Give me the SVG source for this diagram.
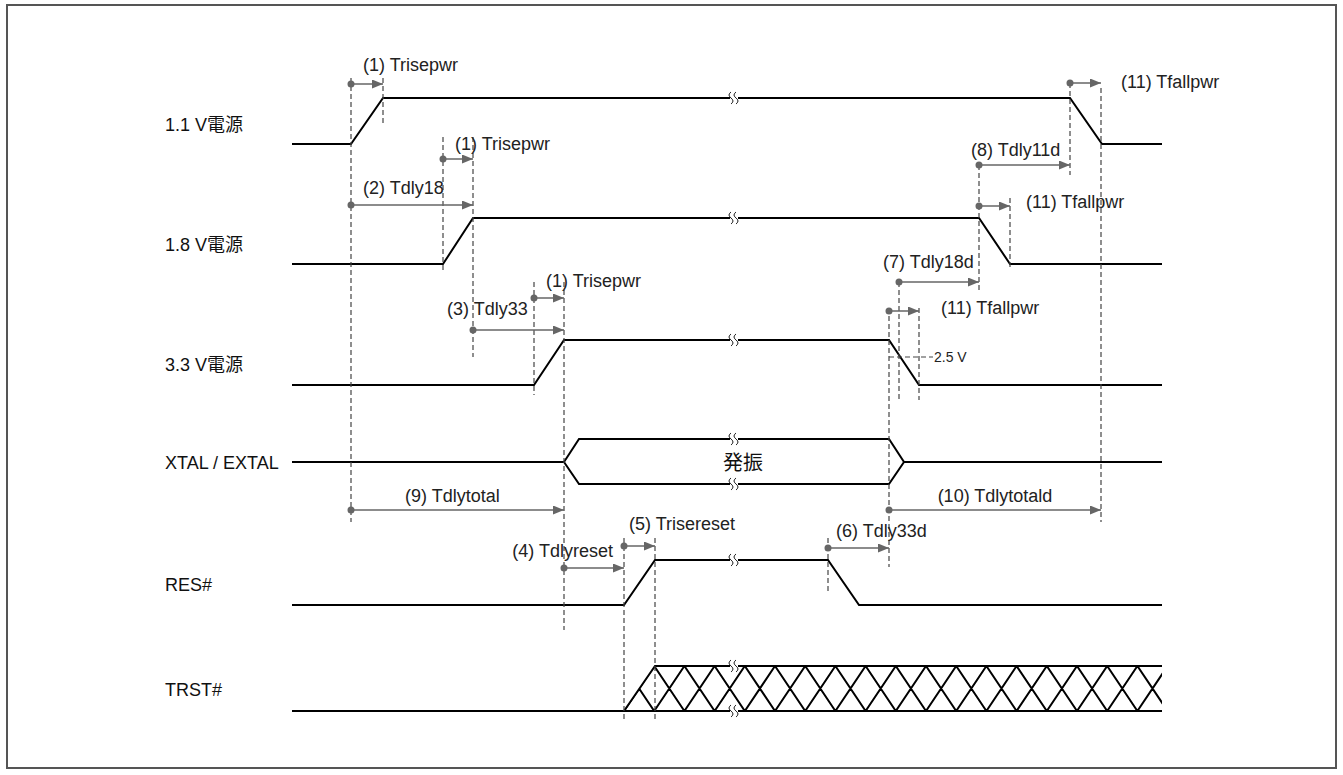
<svg xmlns="http://www.w3.org/2000/svg" width="1343" height="775" viewBox="0 0 1343 775">
<style>
.frame{fill:#fff;stroke:#555;stroke-width:2}
.sig{fill:none;stroke:#000;stroke-width:2;stroke-linejoin:miter}
.dash{fill:none;stroke:#444;stroke-width:1.2;stroke-dasharray:5,3}
.arr{fill:none;stroke:#666;stroke-width:1.5;marker-end:url(#ah)}
.dot{fill:#666}
.lbl{font-family:"Liberation Sans",Arial,"Noto Sans CJK JP",sans-serif;font-size:18px;fill:#111}
.ann{font-family:"Liberation Sans",Arial,sans-serif;font-size:18px;fill:#222}
.small{font-family:"Liberation Sans",Arial,sans-serif;font-size:14px;fill:#222}
.brk{fill:none;stroke:#000;stroke-width:1}
</style>
<defs>
<marker id="ah" markerUnits="userSpaceOnUse" markerWidth="12" markerHeight="10" refX="11" refY="4.5" orient="auto">
<path d="M0,0 L11,4.5 L0,9 z" fill="#666"/>
</marker>
<g id="br">
<rect x="-4" y="-3" width="8" height="6" fill="#fff"/>
<path class="brk" d="M-3,-6 c-2.5,2 -2.5,4 0,6 c2.5,2 2.5,4 0,6"/>
<path class="brk" d="M2,-6 c-2.5,2 -2.5,4 0,6 c2.5,2 2.5,4 0,6"/>
</g>
<clipPath id="trclip"><polygon points="624,711 655,666 1162,666 1162,711"/></clipPath>
</defs>
<rect class="frame" x="7" y="5" width="1329" height="763"/>

<g id="labels">
<text class="lbl" x="165" y="131">1.1 V電源</text>
<text class="lbl" x="165" y="251">1.8 V電源</text>
<text class="lbl" x="165" y="371">3.3 V電源</text>
<text class="lbl" x="165" y="469">XTAL / EXTAL</text>
<text class="lbl" x="165" y="591">RES#</text>
<text class="lbl" x="165" y="696">TRST#</text>
</g>

<g id="sig-11">
<polyline class="sig" points="292,144 351,144 383,98 1070,98 1102,144 1162,144"/>
<use href="#br" x="734" y="98"/>
</g>
<g id="sig-18">
<polyline class="sig" points="292,264 443,264 473,218 979,218 1010,264 1162,264"/>
<use href="#br" x="734" y="218"/>
</g>
<g id="sig-33">
<polyline class="sig" points="292,385 534,385 564,340 889,340 919,385 1162,385"/>
<use href="#br" x="734" y="340"/>
</g>
<g id="sig-xtal">
<polyline class="sig" points="292,462 564,462"/>
<polygon class="sig" points="564,462 579,439 889,439 904,462 889,484 579,484"/>
<polyline class="sig" points="904,462 1162,462"/>
<use href="#br" x="734" y="439"/>
<use href="#br" x="734" y="484"/>
<text class="lbl" x="743" y="470" text-anchor="middle" style="font-family:'Noto Sans CJK JP',sans-serif;font-size:20px">発振</text>
</g>
<g id="sig-res">
<polyline class="sig" points="292,605 624,605 655,560 828,560 859,605 1162,605"/>
<use href="#br" x="734" y="560"/>
</g>
<g id="sig-trst">
<polyline class="sig" points="292,711 1162,711"/>
<polyline class="sig" points="624,711 655,666 1162,666"/>
<path class="sig" clip-path="url(#trclip)" d="M624,711L654.2,666M654.2,711L684.4,666M684.4,711L714.6,666M714.6,711L744.8,666M744.8,711L775,666M775,711L805.2,666M805.2,711L835.4,666M835.4,711L865.6,666M865.6,711L895.8,666M895.8,711L926,666M926,711L956.2,666M956.2,711L986.4,666M986.4,711L1016.6,666M1016.6,711L1046.8,666M1046.8,711L1077,666M1077,711L1107.2,666M1107.2,711L1137.4,666M1137.4,711L1167.6,666M624,666L654.2,711M654.2,666L684.4,711M684.4,666L714.6,711M714.6,666L744.8,711M744.8,666L775,711M775,666L805.2,711M805.2,666L835.4,711M835.4,666L865.6,711M865.6,666L895.8,711M895.8,666L926,711M926,666L956.2,711M956.2,666L986.4,711M986.4,666L1016.6,711M1016.6,666L1046.8,711M1046.8,666L1077,711M1077,666L1107.2,711M1107.2,666L1137.4,711M1137.4,666L1167.6,711"/>
<use href="#br" x="734" y="666"/>
<use href="#br" x="734" y="711"/>
</g>

<g id="connectors">
<path class="dash" d="M351,78V522 M383,78V125 M443,137V270 M473,137V357 M534,282V395 M564,282V630 M624,538V720 M655,538V720 M828,538V593 M889,308V567 M899,282V400 M919,308V400 M979,165V293 M1010,198V270 M1070,83V175 M1101,88V522"/>
<path class="dash" d="M889,357H933"/>
<line class="arr" x1="351" y1="84" x2="383" y2="84"/>
<line class="arr" x1="443" y1="159" x2="473" y2="159"/>
<line class="arr" x1="351" y1="205" x2="473" y2="205"/>
<line class="arr" x1="534" y1="298" x2="564" y2="298"/>
<line class="arr" x1="473" y1="330" x2="564" y2="330"/>
<line class="arr" x1="351" y1="510" x2="564" y2="510"/>
<line class="arr" x1="889" y1="510" x2="1101" y2="510"/>
<line class="arr" x1="564" y1="568" x2="624" y2="568"/>
<line class="arr" x1="624" y1="546" x2="655" y2="546"/>
<line class="arr" x1="828" y1="548" x2="889" y2="548"/>
<line class="arr" x1="1070" y1="83" x2="1101" y2="83"/>
<line class="arr" x1="979" y1="165" x2="1070" y2="165"/>
<line class="arr" x1="979" y1="206" x2="1010" y2="206"/>
<line class="arr" x1="899" y1="282" x2="979" y2="282"/>
<line class="arr" x1="889" y1="311" x2="919" y2="311"/>
<circle class="dot" cx="351" cy="84" r="3.5"/>
<circle class="dot" cx="443" cy="159" r="3.5"/>
<circle class="dot" cx="351" cy="205" r="3.5"/>
<circle class="dot" cx="534" cy="298" r="3.5"/>
<circle class="dot" cx="473" cy="330" r="3.5"/>
<circle class="dot" cx="351" cy="510" r="3.5"/>
<circle class="dot" cx="889" cy="510" r="3.5"/>
<circle class="dot" cx="564" cy="568" r="3.5"/>
<circle class="dot" cx="624" cy="546" r="3.5"/>
<circle class="dot" cx="828" cy="548" r="3.5"/>
<circle class="dot" cx="1070" cy="83" r="3.5"/>
<circle class="dot" cx="979" cy="165" r="3.5"/>
<circle class="dot" cx="979" cy="206" r="3.5"/>
<circle class="dot" cx="899" cy="282" r="3.5"/>
<circle class="dot" cx="889" cy="311" r="3.5"/>
</g>

<g id="annotations">
<text class="ann" x="363" y="71">(1) Trisepwr</text>
<text class="ann" x="455" y="150">(1) Trisepwr</text>
<text class="ann" x="363" y="194">(2) Tdly18</text>
<text class="ann" x="546" y="287">(1) Trisepwr</text>
<text class="ann" x="447" y="315">(3) Tdly33</text>
<text class="ann" x="405" y="502">(9) Tdlytotal</text>
<text class="ann" x="995" y="502" text-anchor="middle">(10) Tdlytotald</text>
<text class="ann" x="613" y="557" text-anchor="end">(4) Tdlyreset</text>
<text class="ann" x="629" y="530">(5) Trisereset</text>
<text class="ann" x="836" y="537">(6) Tdly33d</text>
<text class="ann" x="1121" y="88">(11) Tfallpwr</text>
<text class="ann" x="971" y="156">(8) Tdly11d</text>
<text class="ann" x="1026" y="208">(11) Tfallpwr</text>
<text class="ann" x="883" y="268">(7) Tdly18d</text>
<text class="ann" x="941" y="314">(11) Tfallpwr</text>
<text class="small" x="934" y="362">2.5 V</text>
</g>
</svg>
